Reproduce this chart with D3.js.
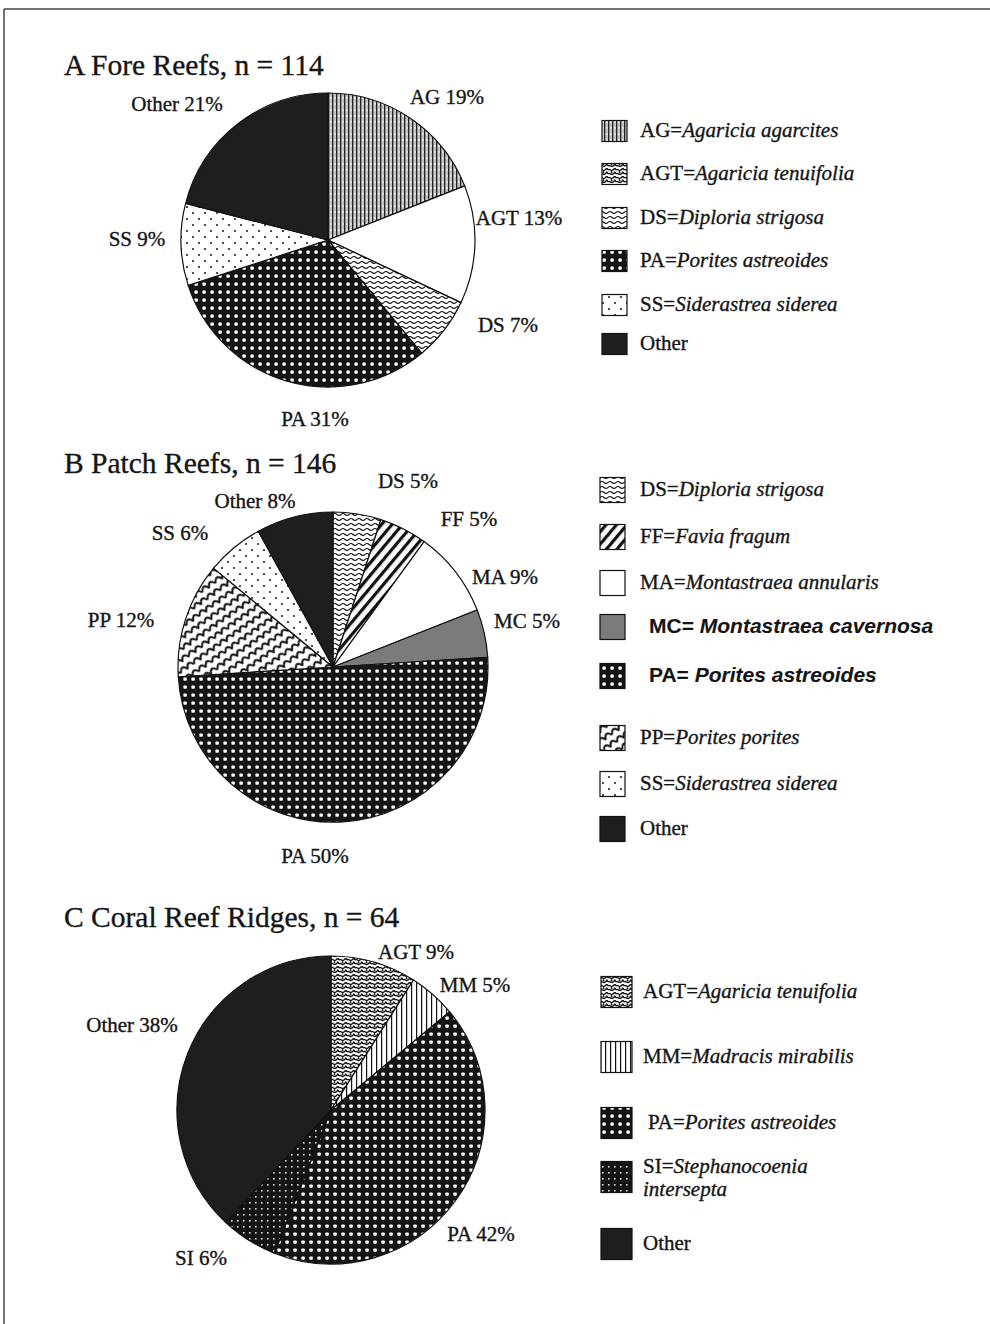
<!DOCTYPE html>
<html>
<head>
<meta charset="utf-8">
<script src="https://cdn.jsdelivr.net/npm/d3@7"></script>
<style>
  body { margin: 0; background: #fff; }
  svg { display: block; }
  text { font-family: "Liberation Serif", "Times New Roman", serif; fill: #151515; stroke: #151515; stroke-width: 0.35px; }
  .sans { font-family: "Liberation Sans", Arial, sans-serif; font-weight: bold; stroke-width: 0.1px; }
</style>
</head>
<body>
<svg></svg>
<script>
// data
const titles = ["A Fore Reefs, n = 114", "B Patch Reefs, n = 146", "C Coral Reef Ridges, n = 64"];

const codesA = ["AG", "AGT", "DS", "PA", "SS", "Other"];
const valuesA = [19, 13, 7, 31, 9, 21];
const namesA = ["Agaricia agarcites", "Agaricia tenuifolia", "Diploria strigosa", "Porites astreoides", "Siderastrea siderea", ""];

const codesB = ["DS", "FF", "MA", "MC", "PA", "PP", "SS", "Other"];
const valuesB = [5, 5, 9, 5, 50, 12, 6, 8];
const namesB = ["Diploria strigosa", "Favia fragum", "Montastraea annularis", "Montastraea cavernosa", "Porites astreoides", "Porites porites", "Siderastrea siderea", ""];

const codesC = ["AGT", "MM", "PA", "SI", "Other"];
const valuesC = [9, 5, 42, 6, 38];
const namesC = ["Agaricia tenuifolia", "Madracis mirabilis", "Porites astreoides", "Stephanocoenia intersepta", ""];

const width = 990;
const height = 1324;

const svg = d3.select("svg").attr("width", width).attr("height", height);
const defs = svg.append("defs");

const pat = (id, w, h, bg, draw, transform) => {
    const p = defs.append("pattern")
        .attr("id", id)
        .attr("patternUnits", "userSpaceOnUse")
        .attr("width", w)
        .attr("height", h);
    if (transform) p.attr("patternTransform", transform);
    p.append("rect").attr("width", w).attr("height", h).attr("fill", bg);
    draw(p);
};

pat("p-AG", 4, 6, "#c2c2c2", p => {
    p.append("rect").attr("width", 1.3).attr("height", 6).attr("fill", "#222");
    p.append("rect").attr("x", 2.4).attr("y", 1).attr("width", 1).attr("height", 2).attr("fill", "#fff");
});
pat("p-AGT", 8, 8, "#fff", p => {
    p.append("path")
        .attr("d", "M0,2 C2,0 3,4 5,2 S7,0 8,2 M0,6 C2,4 3,8 5,6 S7,4 8,6 M3,3.5 L4,5 M7,3.5 L6.5,5")
        .attr("stroke", "#111").attr("stroke-width", 1.5).attr("fill", "none");
});
pat("p-DS", 8, 5, "#fff", p => {
    p.append("path").attr("d", "M0,2.5 Q2,0.5 4,2.5 T8,2.5")
        .attr("stroke", "#111").attr("stroke-width", 1.1).attr("fill", "none");
});
pat("p-PA", 8, 8, "#151515", p => {
    p.append("rect").attr("x", 2.4).attr("y", 2.4).attr("width", 3.4).attr("height", 3.4).attr("rx", 0.8).attr("fill", "#fff");
});
pat("p-SS", 12, 12, "#fff", p => {
    p.append("circle").attr("cx", 3).attr("cy", 3).attr("r", 1.1).attr("fill", "#222");
    p.append("circle").attr("cx", 9).attr("cy", 9).attr("r", 1.1).attr("fill", "#222");
});
pat("p-FF", 8, 8, "#fff", p => {
    p.append("rect").attr("width", 3.2).attr("height", 8).attr("fill", "#111");
}, "rotate(40)");
pat("p-MM", 5, 5, "#fff", p => {
    p.append("rect").attr("width", 1.2).attr("height", 5).attr("fill", "#111");
});
pat("p-PP", 16, 9, "#fff", p => {
    p.append("path").attr("d", "M0,8 Q4,0 8,8 Q12,0 16,8")
        .attr("stroke", "#111").attr("stroke-width", 1.8).attr("fill", "none");
}, "rotate(-35)");
pat("p-SI", 6, 6, "#141414", p => {
    p.append("rect").attr("x", 2).attr("y", 2).attr("width", 1.6).attr("height", 1.6).attr("fill", "#d8d8d8");
});

const fills = {
    AG: "url(#p-AG)", AGT: "url(#p-AGT)", DS: "url(#p-DS)", PA: "url(#p-PA)",
    SS: "url(#p-SS)", FF: "url(#p-FF)", MA: "#fff", MC: "#7b7b7b",
    PP: "url(#p-PP)", MM: "url(#p-MM)", SI: "url(#p-SI)", Other: "#1e1e1e"
};

// frame of the scanned page
svg.append("line").attr("x1", 4).attr("y1", 9).attr("x2", width).attr("y2", 9)
    .attr("stroke", "#444").attr("stroke-width", 1.5);
svg.append("line").attr("x1", 4).attr("y1", 9).attr("x2", 4).attr("y2", height)
    .attr("stroke", "#444").attr("stroke-width", 1.5);

const panels = [
    {
        codes: codesA, values: valuesA, names: namesA, title: titles[0], titleY: 75,
        cx: 328, cy: 240, r: 147, override: { AGT: "#fff" },
        labels: [[447, 97], [519, 218], [508, 325], [315, 419], [137, 239], [177, 104]],
        rows: [130, 173, 217, 260, 304, 343], sw: [25, 21], swX: 602, textX: [640, 640, 640, 640, 640, 640],
        sans: []
    },
    {
        codes: codesB, values: valuesB, names: namesB, title: titles[1], titleY: 473,
        cx: 333, cy: 667, r: 155, override: {},
        labels: [[408, 481], [469, 519], [505, 577], [527, 621], [315, 856], [121, 620], [180, 533], [255, 501]],
        rows: [489, 536, 582, 626, 675, 737, 783, 828], sw: [25, 25], swX: 600, textX: [640, 640, 640, 649, 649, 640, 640, 640],
        sans: ["MC", "PA"]
    },
    {
        codes: codesC, values: valuesC, names: namesC, title: titles[2], titleY: 927,
        cx: 331, cy: 1110, r: 154, override: {},
        labels: [[416, 952], [475, 985], [481, 1234], [201, 1258], [132, 1025]],
        rows: [991, 1056, 1122, 1176, 1243], sw: [31, 31], swX: 601, textX: [643, 643, 648, 643, 643],
        sans: []
    }
];

const pie = d3.pie().sort(null).value(d => d.value);

panels.forEach(panel => {
    const rows = panel.codes.map((code, i) => ({ code: code, value: panel.values[i], name: panel.names[i] }));
    const arc = d3.arc().innerRadius(0).outerRadius(panel.r);
    const fillOf = d => panel.override[d.code] || fills[d.code];

    svg.append("text")
        .attr("x", 64)
        .attr("y", panel.titleY)
        .attr("font-size", 29.5)
        .text(panel.title);

    const g = svg.append("g").attr("transform", "translate(" + panel.cx + "," + panel.cy + ")");

    g.selectAll("path")
        .data(pie(rows))
        .enter()
        .append("path")
        .attr("d", arc)
        .attr("fill", d => fillOf(d.data))
        .attr("stroke", "#111")
        .attr("stroke-width", 1.2);

    svg.selectAll(null)
        .data(rows)
        .enter()
        .append("text")
        .attr("x", (d, i) => panel.labels[i][0])
        .attr("y", (d, i) => panel.labels[i][1])
        .attr("dy", "0.35em")
        .attr("text-anchor", "middle")
        .attr("font-size", 21)
        .text(d => d.code + " " + d.value + "%");

    // legend
    const leg = svg.append("g");
    rows.forEach((d, i) => {
        const y = panel.rows[i];
        leg.append("rect")
            .attr("x", panel.swX)
            .attr("y", y - panel.sw[1] / 2 + 1)
            .attr("width", panel.sw[0])
            .attr("height", panel.sw[1])
            .attr("fill", fills[d.code])
            .attr("stroke", "#111")
            .attr("stroke-width", 1.2);

        const isSans = panel.sans.includes(d.code);
        const t = leg.append("text")
            .attr("x", panel.textX[i])
            .attr("y", y)
            .attr("dy", "0.35em")
            .attr("font-size", 21)
            .attr("class", isSans ? "sans" : null);

        if (d.code === "Other") {
            t.text("Other");
        } else if (d.code === "SI") {
            t.attr("y", y - 10);
            t.append("tspan").text(d.code + "=");
            t.append("tspan").attr("font-style", "italic").text(d.name.split(" ")[0]);
            leg.append("text")
                .attr("x", panel.textX[i])
                .attr("y", y + 13)
                .attr("dy", "0.35em")
                .attr("font-size", 21)
                .attr("font-style", "italic")
                .text(d.name.split(" ")[1]);
        } else {
            t.append("tspan").text(d.code + (isSans ? "= " : "="));
            t.append("tspan").attr("font-style", "italic").text(d.name);
        }
    });
});
</script>
</body>
</html>
